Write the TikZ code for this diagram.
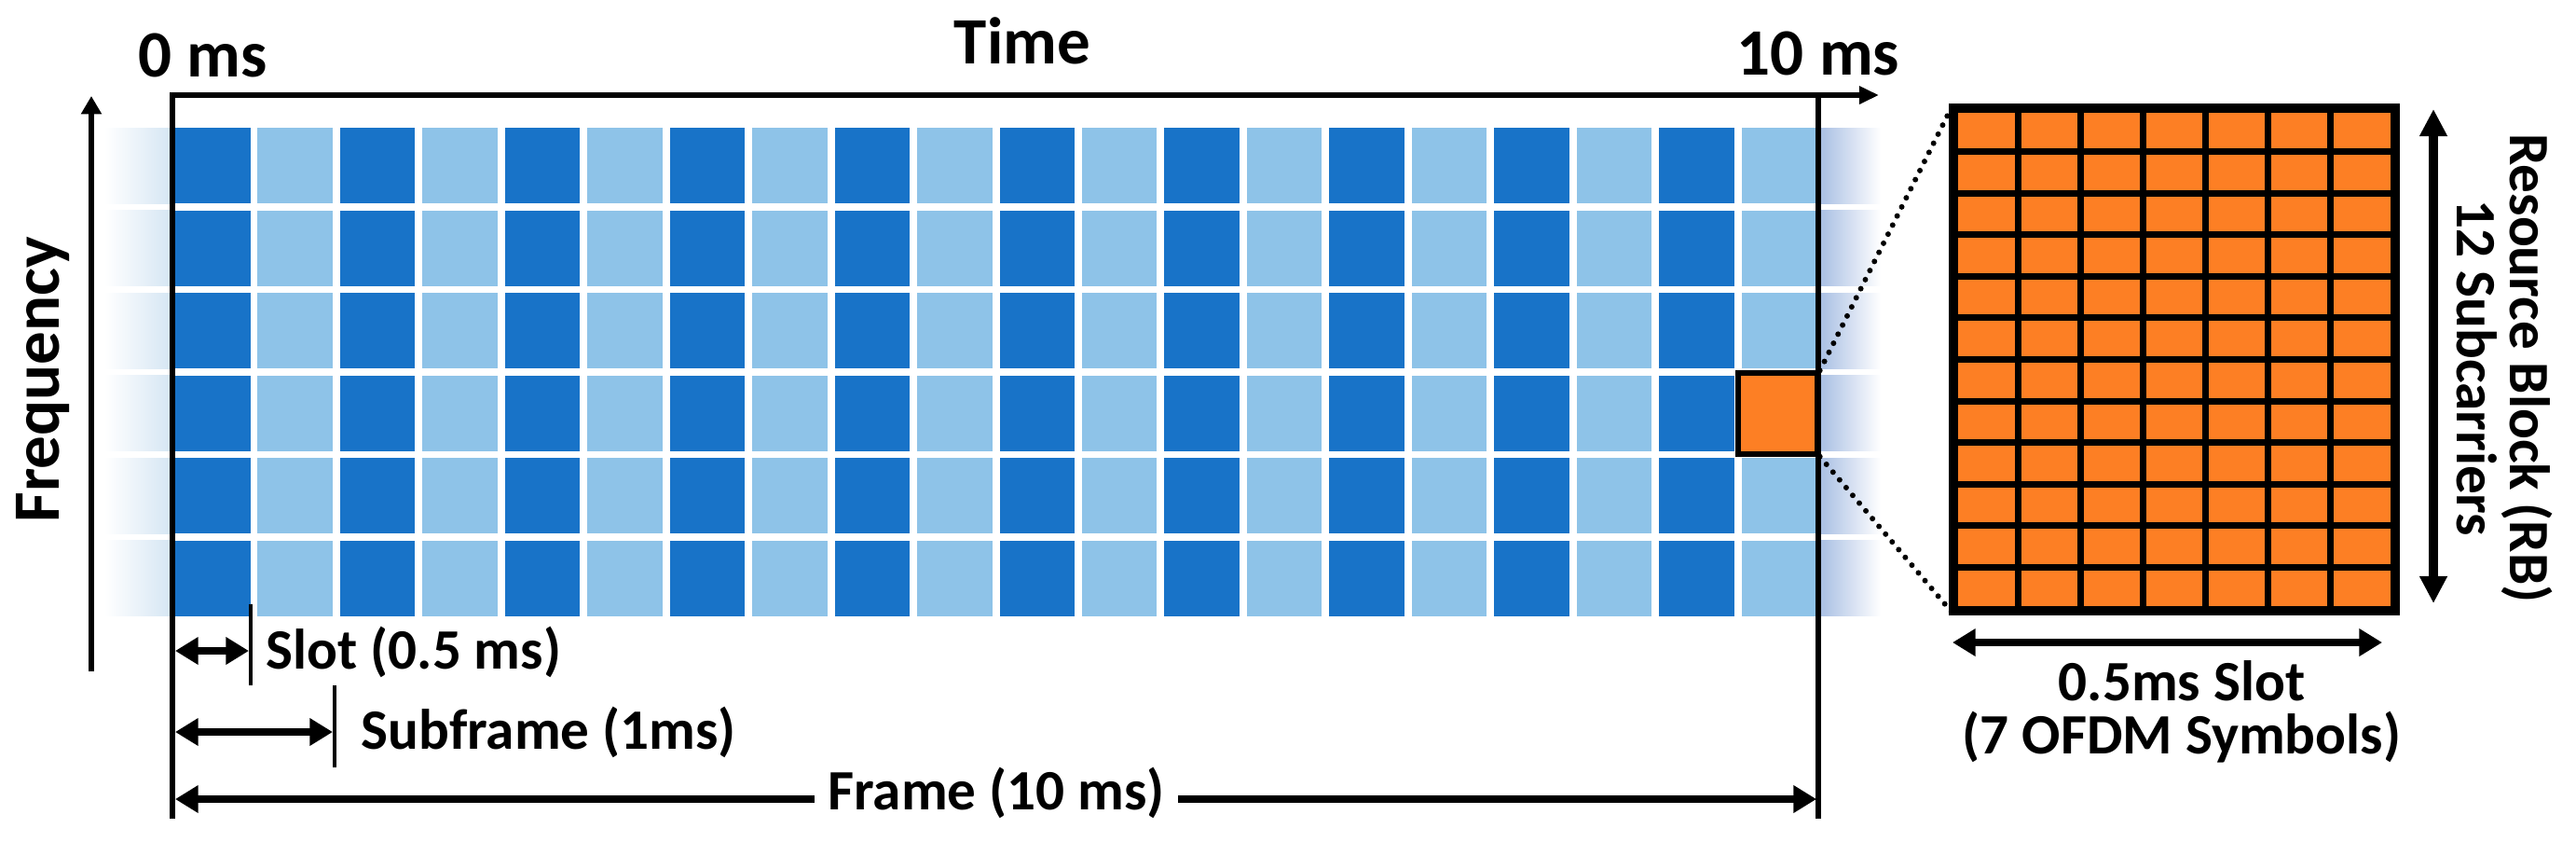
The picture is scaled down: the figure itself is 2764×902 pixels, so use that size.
\documentclass[tikz,border=0pt]{standalone}
\usepackage{fontspec}
\setmainfont{Carlito}
\usetikzlibrary{arrows.meta,calc}
\definecolor{dblue}{RGB}{24,115,200}
\definecolor{lblue}{RGB}{142,195,232}
\definecolor{rborange}{RGB}{253,127,36}
\definecolor{gradL}{RGB}{212,229,243}
\definecolor{gradR}{RGB}{165,188,226}
\def\pxu{0.28453}
\begin{document}
\begin{tikzpicture}[x=0.01cm,y=-0.01cm,
  bigtxt/.style={font=\bfseries\fontsize{20.2}{24}\selectfont, inner sep=0pt},
  smalltxt/.style={font=\bfseries\fontsize{17.4}{20}\selectfont, inner sep=0pt},
  axisline/.style={line width=1.6pt, line join=miter},
  tickline/.style={line width=1.1pt},
  dimarrow/.style={line width=2.4pt, arrows={Triangle[length=7pt,width=8pt]-Triangle[length=7pt,width=8pt]}},
  onearrow/.style={line width=2.4pt, arrows={-Triangle[length=7pt,width=8pt]}},
  rbarrow/.style={line width=2.6pt, arrows={Triangle[length=8.3pt,width=8pt]-Triangle[length=8.3pt,width=8pt]}},
  dotline/.style={line width=1.7pt, dash pattern=on 0pt off 3.1pt, line cap=round},
  smallrb/.style={draw=black, fill=rborange, line width=1.5pt, inner sep=0pt,
     minimum width={85*\pxu pt}, minimum height={87*\pxu pt}},
  bigrb/.style={draw=black, fill=rborange, line width=2pt, inner sep=0pt,
     minimum width={470*\pxu pt}, minimum height={535*\pxu pt}}
]
\useasboundingbox (0,0) rectangle (2764,902);

% edge gradients per row
\foreach \r in {0,...,5}{
  \pgfmathsetmacro\ya{137+\r*88.5}
  \shade[left color=white, right color=gradL] (112,\ya) rectangle ++(74,81);
  \shade[left color=gradR, right color=white] (1950,\ya) rectangle ++(68,81);
}

% time-frequency grid
\foreach \r in {0,...,5}{
  \foreach \c in {0,...,19}{
    \pgfmathsetmacro\xa{188+\c*88.45}
    \pgfmathsetmacro\ya{137+\r*88.5}
    \pgfmathtruncatemacro\odd{mod(\c,2)}
    \ifnum\odd=0 \def\cc{dblue}\else\def\cc{lblue}\fi
    \fill[\cc] (\xa,\ya) rectangle ++(80.5,81);
  }
}

% frame lines
\coordinate (TL) at (185,102);
\coordinate (TR) at (1951,102);
\coordinate (BL) at (185,878);
\coordinate (BR) at (1951,878);
\coordinate (Tend) at (2016,102);
\draw[axisline, arrows={-Triangle[length=6pt,width=5.2pt]}] (BL) -- (TL) -- (Tend);
\draw[axisline] (TR) -- (BR);

% frequency axis
\coordinate (F0) at (98,720);
\coordinate (F1) at (98,103);
\draw[line width=1.5pt, arrows={-Triangle[length=5.5pt,width=6pt]}] (F0) -- (F1);

% axis labels
\node[bigtxt, anchor=base] (t0) at (218,82) {0 ms};
\node[bigtxt, anchor=base] (t10) at (1951,80) {10 ms};
\node[bigtxt, anchor=base] (time) at (1097,68) {Time};
\node[bigtxt, anchor=base, rotate=90] (freq) at (63,407) {Frequency};

% slot / subframe / frame dimensions
\coordinate (slotTickA) at (269,648);
\coordinate (slotTickB) at (269,735);
\coordinate (subTickA) at (359,735);
\coordinate (subTickB) at (359,823);
\draw[tickline] (slotTickA) -- (slotTickB);
\draw[tickline] (subTickA) -- (subTickB);
\coordinate (slotL) at (188,698);
\coordinate (slotR) at (267,698);
\coordinate (subL) at (188,785);
\coordinate (subR) at (357,785);
\draw[dimarrow] (slotL) -- (slotR);
\draw[dimarrow] (subL) -- (subR);
\node[smalltxt, anchor=base west] (slotlbl) at (285,717) {Slot (0.5 ms)};
\node[smalltxt, anchor=base west] (sublbl) at (387,803) {Subframe (1ms)};

\coordinate (frL) at (188,857);
\coordinate (frR) at (1949,857);
\node[smalltxt, anchor=base, inner xsep=4pt] (framelbl) at (1069,868) {Frame (10 ms)};
\draw[onearrow] (framelbl.west |- frL) -- (frL);
\draw[onearrow] (framelbl.east |- frR) -- (frR);

% highlighted RB in grid
\node[smallrb] (rbs) at (1907.5,443.5) {};

% zoomed resource block
\node[bigrb] (rbb) at (2333,385.5) {};
\foreach \i in {1,...,6}{
  \pgfmathsetmacro\xx{2098+\i*470/7}
  \draw[line width=2pt] (\xx,118) -- (\xx,653);
}
\foreach \j in {1,...,11}{
  \pgfmathsetmacro\yy{118+\j*535/12}
  \draw[line width=2pt] (2098,\yy) -- (2568,\yy);
}
\draw[line width=2pt] (rbb.north west) rectangle (rbb.south east);

\draw[dotline] (rbs.north east) -- (rbb.north west);
\draw[dotline] (rbs.south east) -- (rbb.south west);

% RB dimension arrows
\coordinate (rbT) at (2611,117);
\coordinate (rbB) at (2611,647);
\draw[rbarrow] (rbT) -- (rbB);
\coordinate (osL) at (2095,689);
\coordinate (osR) at (2556,689);
\draw[dimarrow] (osL) -- (osR);

\node[smalltxt, anchor=base, rotate=-90] (rblbl1) at (2693,395) {Resource Block (RB)};
\node[smalltxt, anchor=base, rotate=-90] (rblbl2) at (2636,395) {12 Subcarriers};
\node[smalltxt, anchor=base] (oslbl1) at (2341,751) {0.5ms Slot};
\node[smalltxt, anchor=base] (oslbl2) at (2341,808) {(7 OFDM Symbols)};
\end{tikzpicture}
\end{document}
